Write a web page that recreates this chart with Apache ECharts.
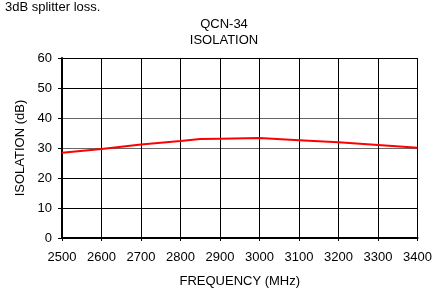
<!DOCTYPE html>
<html lang="en">
<head>
    <meta charset="UTF-8">
    <title>QCN-34 Isolation</title>
    <script src="https://cdnjs.cloudflare.com/ajax/libs/echarts/6.0.0/echarts.min.js"></script>
    <style>
        body { margin: 0; background: #fff; }
    </style>
</head>
<body>
    <div id="main" style="width: 435px;height:293px;"></div>
    <script>
        // data
        const freq = [2500, 2600, 2700, 2800, 2850, 2900, 3000, 3100, 3200, 3300, 3400];
        const isolation = [28.4, 29.7, 31.2, 32.3, 33.0, 33.1, 33.3, 32.6, 31.9, 31.0, 30.1];
        const note = "3dB splitter loss.";
        const titleLines = ["QCN-34", "ISOLATION"];

        const myChart = echarts.init(document.getElementById('main'));
        const font = 'Liberation Sans, Arial, sans-serif';

        let option = {
            animation: false,
            textStyle: { fontFamily: font },
            graphic: [{
                type: 'text', left: 5, top: 1,
                style: { text: note, font: '13px ' + font, fill: '#000' }
            }, {
                type: 'text', x: 224, y: 16,
                style: {
                    text: titleLines.join('\n'), font: '13px ' + font, fill: '#000',
                    align: 'center', verticalAlign: 'top', lineHeight: 16
                }
            }],
            grid: { left: 62, right: 15, top: 58, bottom: 50 },
            xAxis: {
                type: 'value', min: 2500, max: 3400, interval: 100,
                name: 'FREQUENCY (MHz)', nameLocation: 'middle', nameGap: 37,
                nameTextStyle: { fontSize: 13, color: '#000' },
                axisLine: { lineStyle: { color: '#000', width: 2 } },
                axisTick: { show: true, length: 3, lineStyle: { color: '#000' } },
                axisLabel: { fontSize: 13, color: '#000', margin: 13, formatter: v => String(v) },
                splitLine: { show: true, lineStyle: { color: '#000', width: 1 } }
            },
            yAxis: {
                type: 'value', min: 0, max: 60, interval: 10,
                name: 'ISOLATION (dB)', nameLocation: 'middle', nameGap: 33,
                nameTextStyle: { fontSize: 13, color: '#000' },
                axisLine: { show: true, lineStyle: { color: '#000', width: 2 } },
                axisTick: { show: true, length: 4, lineStyle: { color: '#000' } },
                axisLabel: { fontSize: 13, color: '#000', margin: 10 },
                splitLine: {
                    show: true,
                    lineStyle: { color: ['#000', '#000', '#000', '#666', '#666', '#000', '#000'], width: 1 }
                }
            },
            series: [{
                type: 'line',
                data: freq.map((f, i) => [f, isolation[i]]),
                showSymbol: false,
                smooth: false,
                lineStyle: { color: '#ff0000', width: 2 }
            }]
        };
        myChart.setOption(option);
    </script>
</body>
</html>
